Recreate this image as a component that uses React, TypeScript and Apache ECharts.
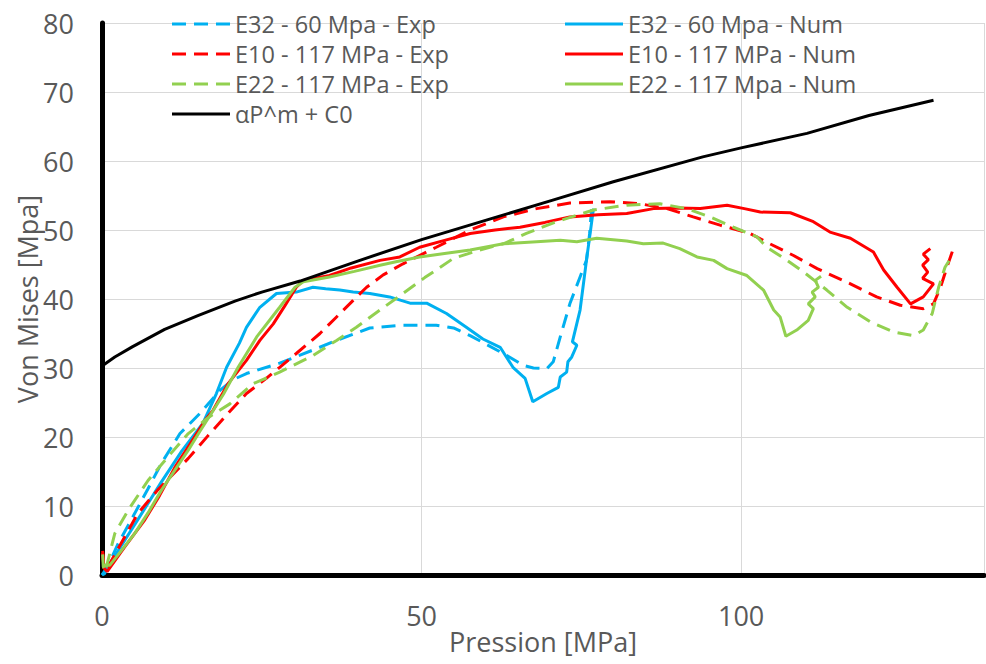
import React, { useEffect, useRef } from "react";
import * as echarts from "echarts";

const xTicks = [0, 50, 100];
const yTicks = [0, 10, 20, 30, 40, 50, 60, 70, 80];

const seriesNames = [
  "E32 - 60 Mpa - Exp",
  "E32 - 60 Mpa - Num",
  "E10 - 117 MPa - Exp",
  "E10 - 117 MPa - Num",
  "E22 - 117 MPa - Exp",
  "E22 - 117 Mpa - Num",
  "αP^m + C0",
];

const e32Exp = [
  [0, 0], [0.4, 0.2], [2.5, 4.5], [5.1, 8.9], [7.2, 12.5], [9.3, 16.2], [12.2, 20.5], [15.3, 23.4],
  [18.5, 26.8], [20.5, 28.3], [22.6, 29.2], [27.8, 30.7], [33, 32.6], [36.7, 34.0], [41.9, 35.8],
  [47.1, 36.2], [52.3, 36.2], [55, 35.8], [57.6, 34.7], [60, 33.5], [62.8, 32.1], [65.9, 30.4],
  [67.5, 30.0], [69.6, 29.9], [70.6, 30.9], [71.7, 34.5], [73.2, 39.3], [74.8, 43.2], [75.8, 45.6],
  [76.3, 49.5], [76.6, 53.0],
];

const e32Num = [
  [0, 0], [3, 4.2], [6, 8.6], [9.3, 13.5], [12.5, 18], [15.8, 22], [17.9, 26.3], [19.5, 30.1],
  [21.5, 33.6], [22.6, 35.9], [24.7, 38.8], [27.3, 40.8], [30.4, 41.0], [33, 41.7], [35, 41.5],
  [37.2, 41.3], [39.3, 41.0], [41.9, 40.8], [45, 40.3], [48.2, 39.4], [50.8, 39.4], [53.9, 37.9],
  [57, 35.9], [59.6, 34.2], [62.3, 33.0], [64.3, 30.1], [66.2, 28.5], [67.4, 25.1], [69.6, 26.3],
  [71.4, 27.2], [71.7, 28.7], [72.7, 29.4], [72.9, 30.9], [73.5, 31.6], [74.3, 33.3], [73.6, 33.8],
  [74.8, 38.4], [75.8, 45.6], [76.9, 53.1],
];

const e10Exp = [
  [0.1, 3.2], [0.3, 1.2], [0.6, 0.6], [3, 4.6], [5.6, 8.9], [8.7, 12.3], [13.5, 16.9], [16.6, 20.2],
  [19.7, 23.4], [22.6, 26.3], [25.7, 28.5], [27.8, 30.1], [30.4, 32.1], [34.1, 35.0], [36.7, 37.4],
  [39.3, 39.8], [41.4, 41.7], [44, 43.5], [47.1, 45.1], [52.3, 47.5], [57.6, 50.0], [62.8, 51.9],
  [68, 53.1], [73.2, 53.9], [79.5, 54.1], [84.2, 53.8], [88.4, 53.1], [92.5, 51.9], [96.7, 50.7],
  [101.4, 49.5], [104.5, 48.0], [108.2, 46.3], [111.9, 44.4], [117.1, 42.2], [121.2, 40.3],
  [124.9, 39.1], [128.5, 38.6], [130.1, 39.3], [131.2, 41.7], [132.2, 44.6], [133.2, 47.3],
];

const e10Num = [
  [0.1, 3.5], [0.3, 1.0], [0.8, 0.5], [3.5, 4.0], [6.7, 8.0], [9, 11.5], [11.4, 15.6], [13.8, 19],
  [16.1, 22.4], [17.4, 23.9], [19.7, 27.7], [22.6, 31.1], [24.7, 34], [26.8, 36.4], [28.6, 39],
  [30.4, 41.7], [31.5, 42.7], [35.6, 43.4], [39, 44.5], [43.5, 45.6], [46.6, 46.1], [49.7, 47.5],
  [53.6, 48.5], [57.6, 49.5], [61.5, 50.0], [65.4, 50.4], [69.3, 51.1], [73.2, 51.9], [77.6, 52.2],
  [82.1, 52.4], [86.3, 53.1], [90, 53.2], [93.6, 53.1], [97.8, 53.6], [100.5, 53.1], [103, 52.6],
  [107.7, 52.5], [111.3, 51.2], [113.9, 49.7], [117.1, 48.8], [120.7, 46.8], [122.3, 44.2],
  [124.4, 41.7], [126.5, 39.3], [128.5, 40.3], [130.1, 42.2], [128.4, 43.0], [129.2, 43.9],
  [128.4, 44.9], [129.3, 45.7], [128.5, 46.5], [129.6, 47.3],
];

const e22Exp = [
  [0.1, 3.0], [0.2, 1.2], [0.5, 0.5], [2, 6.0], [4.1, 9.4], [7.2, 13.7], [10.3, 17.1], [13.5, 20.5],
  [16.6, 22.8], [20, 24.8], [23.6, 27.7], [27.8, 29.4], [33, 31.8], [36.7, 34.0], [39.8, 35.9],
  [43.5, 38.4], [47.1, 40.8], [50.5, 43.1], [55, 45.9], [59.1, 47.1], [62.8, 48.0], [66.4, 49.5],
  [71.1, 51.2], [76.9, 52.9], [82.1, 53.6], [87.3, 53.8], [91.5, 53.1], [95.1, 51.9], [98.8, 50.4],
  [102.5, 49.0], [104, 47.5], [107.2, 45.6], [109.8, 43.9], [113.4, 41.3], [116.6, 38.8],
  [120.2, 36.7], [123.9, 35.2], [127, 34.7], [128.5, 35.5], [129.9, 37.9], [130.9, 41.7],
  [131.9, 44.6], [132.7, 45.8],
];

const e22Num = [
  [0.1, 1.4], [1.2, 1.4], [3, 3.5], [5.1, 6.0], [7.2, 9], [9.3, 12.3], [11.4, 15.2], [13.5, 18.1],
  [15.3, 20.8], [17.1, 23.4], [19, 26.2], [21.3, 30.1], [24.2, 34.5], [27.8, 38.8], [30.2, 41.7],
  [31.5, 42.5], [35.6, 43.2], [39.5, 44.0], [43.5, 44.9], [46, 45.4], [49.7, 46.1], [53.6, 46.6],
  [57.6, 47.1], [62.8, 48.0], [68, 48.3], [71.7, 48.5], [74.3, 48.3], [77.4, 48.8], [82.1, 48.4],
  [84.7, 48.0], [87.8, 48.1], [90.4, 47.3], [93.1, 46.1], [95.7, 45.6], [97.8, 44.4], [100.9, 43.4],
  [103, 41.7], [103.5, 41.3], [105.1, 38.4], [106.1, 37.4], [107, 34.6], [108.7, 35.5],
  [110.5, 36.9], [111.3, 38.6], [110.5, 39.3], [111.6, 40.3], [111.1, 41.0], [112.1, 41.7],
  [111.6, 42.7], [112.5, 43.3],
];

const powerLaw = [
  [0, 30.3], [2, 31.6], [4.8, 33.1], [9.8, 35.6], [15, 37.6], [20.8, 39.7], [25, 41.0], [31, 42.6],
  [40, 45.5], [50, 48.6], [60, 51.4], [70.4, 54.3], [80, 57.0], [94, 60.6], [100, 61.9],
  [110.3, 64.0], [120, 66.6], [130.1, 68.8],
];

const seriesData = [e32Exp, e32Num, e10Exp, e10Num, e22Exp, e22Num, powerLaw];
const seriesColors = ["#00B0F0", "#00B0F0", "#FF0000", "#FF0000", "#92D050", "#92D050", "#000000"];
const seriesDashed = [true, false, true, false, true, false, false];

const FONT = "'Open Sans', Lato, sans-serif";
const TEXT = "#595959";
const SOLID_ICON = "path://M0,0H58V3H0Z";
const DASH_ICON = "path://M0,0H14V3H0Z M22,0H36V3H22Z M44,0H58V3H44Z";

export default function App() {
  const ref = useRef<HTMLDivElement>(null);
  useEffect(() => {
    if (!ref.current) return;
    const chart = echarts.init(ref.current, undefined, { renderer: "svg" });
    const legendText = { color: TEXT, fontSize: 23.5, fontFamily: FONT, lineHeight: 24 };
    const legendItem = (i: number) => ({
      name: seriesNames[i],
      icon: seriesDashed[i] ? DASH_ICON : SOLID_ICON,
    });
    const legendBase = {
      orient: "vertical",
      top: 12,
      padding: 0,
      itemWidth: 58,
      itemHeight: 3,
      itemGap: 6,
      textStyle: legendText,
    };
    chart.setOption({
      animation: false,
      backgroundColor: "#ffffff",
      grid: { left: 102, right: 2, top: 23, bottom: 89, containLabel: false, outerBoundsMode: "none" },
      legend: [
        { ...legendBase, left: 172, data: [0, 2, 4, 6].map(legendItem) },
        { ...legendBase, left: 565, data: [1, 3, 5].map(legendItem) },
      ],
      xAxis: {
        type: "value",
        min: xTicks[0],
        max: 138,
        interval: xTicks[1] - xTicks[0],
        name: "Pression [MPa]",
        nameLocation: "middle",
        nameGap: 51,
        nameMoveOverlap: false,
        nameTextStyle: { color: TEXT, fontSize: 27, fontFamily: FONT, lineHeight: 30 },
        axisLine: { show: true, lineStyle: { color: "#000", width: 5 } },
        axisTick: { show: false },
        axisLabel: { color: TEXT, fontSize: 27, fontFamily: FONT, margin: 27, showMaxLabel: false },
        splitLine: { show: true, lineStyle: { color: "#D9D9D9", width: 1 } },
      },
      yAxis: {
        type: "value",
        min: yTicks[0],
        max: yTicks[yTicks.length - 1],
        interval: yTicks[1] - yTicks[0],
        name: "Von Mises [Mpa]",
        nameLocation: "middle",
        nameGap: 61,
        nameMoveOverlap: false,
        nameTextStyle: { color: TEXT, fontSize: 27, fontFamily: FONT },
        axisLine: { show: true, lineStyle: { color: "#000", width: 5 } },
        axisTick: { show: false },
        axisLabel: { color: TEXT, fontSize: 27, fontFamily: FONT, margin: 28 },
        splitLine: { show: true, lineStyle: { color: "#D9D9D9", width: 1 } },
      },
      series: seriesNames.map((name, i) => ({
        name,
        type: "line",
        data: seriesData[i],
        symbol: "none",
        color: seriesColors[i],
        lineStyle: {
          color: seriesColors[i],
          width: 3,
          type: seriesDashed[i] ? [14, 8] : "solid",
        },
        z: 2 + i,
      })),
    });
    return () => chart.dispose();
  }, []);
  return (
    <div
      ref={ref}
      style={{ position: "fixed", left: 0, top: 0, width: 986, height: 664, background: "#fff" }}
    />
  );
}
